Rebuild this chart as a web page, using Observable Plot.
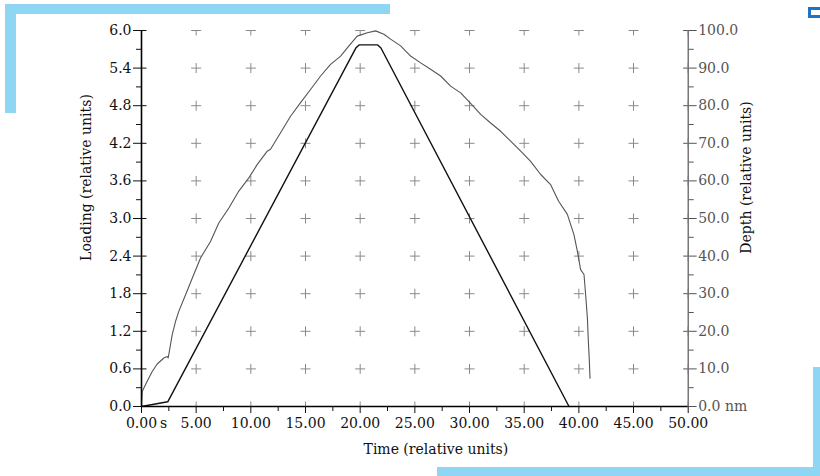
<!DOCTYPE html>
<html>
<head>
<meta charset="utf-8">
<script src="https://cdn.jsdelivr.net/npm/d3@7"></script>
<script src="https://cdn.jsdelivr.net/npm/@observablehq/plot@0.6"></script>
<style>
  html, body { margin: 0; padding: 0; background: #fff; }
  #wrap { position: relative; width: 820px; height: 476px; overflow: hidden; }
  #chart svg { display: block; }
  .deco { position: absolute; background: #8fd6f5; }
  .sq { position: absolute; left: 808px; top: 7px; width: 10px; height: 5px; border: 3.3px solid #1f73c4; }
</style>
</head>
<body>
<div id="wrap">
  <div id="chart"></div>
  <div class="deco" style="left:5px;top:4px;width:385px;height:9.5px"></div>
  <div class="deco" style="left:5px;top:4px;width:11px;height:109px"></div>
  <div class="deco" style="left:813px;top:367px;width:7px;height:109px"></div>
  <div class="deco" style="left:437px;top:466.5px;width:383px;height:9.5px"></div>
  <div class="sq"></div>
</div>
<script>
// Loading curve (left axis, relative units)
const loadTime  = [0, 2.4, 19.6, 19.9, 21.6, 21.9, 39.1];
const loadValue = [0, 0.075, 5.72, 5.77, 5.77, 5.72, 0];

// Depth curve (right axis, nm)
const depthTime = [0, 0.06, 0.52, 0.98, 1.44, 2.04, 2.35, 2.44, 2.81, 3.11, 3.41, 4.03, 4.78, 5.40, 6.31, 7.07, 7.99, 8.90, 9.82, 10.59, 11.50, 11.80, 12.72, 13.63, 14.55, 15.46, 16.38, 17.29, 18.21, 18.97, 19.73, 20.65, 21.41, 22.17, 22.78, 23.70, 24.61, 25.53, 26.44, 27.36, 28.27, 29.19, 30.10, 31.02, 31.93, 32.85, 33.76, 34.68, 35.59, 36.51, 37.42, 38.15, 38.95, 39.55, 39.86, 40.16, 40.47, 40.62, 40.78, 40.87, 40.96, 41.02];
const depthValue = [0, 4.0, 6.7, 9.3, 11.3, 12.9, 13.3, 12.9, 19.1, 22.6, 25.3, 29.7, 35.1, 39.5, 43.9, 48.8, 52.8, 57.3, 60.8, 64.4, 67.9, 68.4, 72.8, 77.2, 80.8, 84.3, 87.9, 91.0, 93.2, 95.9, 98.5, 99.4, 99.9, 99.0, 97.7, 95.9, 93.2, 91.4, 89.7, 87.9, 85.2, 83.4, 80.6, 77.7, 75.4, 73.2, 70.6, 67.9, 65.2, 61.7, 59.0, 54.6, 51.1, 45.7, 41.3, 36.4, 35.1, 29.7, 23.5, 17.3, 12.0, 7.5];

// Axis ticks and labels
const xMajor = [0, 5, 10, 15, 20, 25, 30, 35, 40, 45, 50];
const xMinor = [2.5, 7.5, 12.5, 17.5, 22.5, 27.5, 32.5, 37.5, 42.5, 47.5];
const xLabels = ["0.00", "5.00", "10.00", "15.00", "20.00", "25.00", "30.00", "35.00", "40.00", "45.00", "50.00"];
const yMajor = [0, 0.6, 1.2, 1.8, 2.4, 3.0, 3.6, 4.2, 4.8, 5.4, 6.0];
const yMinor = [0.3, 0.9, 1.5, 2.1, 2.7, 3.3, 3.9, 4.5, 5.1, 5.7];
const yLabels = ["0.0", "0.6", "1.2", "1.8", "2.4", "3.0", "3.6", "4.2", "4.8", "5.4", "6.0"];
const depthMajor = [0, 10, 20, 30, 40, 50, 60, 70, 80, 90, 100];
const depthMinor = [5, 15, 25, 35, 45, 55, 65, 75, 85, 95];
const depthLabels = ["0.0 nm", "10.0", "20.0", "30.0", "40.0", "50.0", "60.0", "70.0", "80.0", "90.0", "100.0"];
const depthMax = 100, loadMax = 6;

const scaleDepth = d => d * loadMax / depthMax;

const loadData = loadTime.map((t, i) => ({t, v: loadValue[i]}));
const depthData = depthTime.map((t, i) => ({t, v: scaleDepth(depthValue[i])}));

const gridInner = [], gridLeft = [], gridRight = [];
for (const x of xMajor) for (const y of yMajor) {
  if (x === 0) gridLeft.push({x, y});
  else if (x === 50) gridRight.push({x, y});
  else gridInner.push({x, y});
}
const plus = {draw(ctx) { ctx.moveTo(-5, 0); ctx.lineTo(5, 0); ctx.moveTo(0, -5); ctx.lineTo(0, 5); }};

const chart = Plot.plot({
  width: 820, height: 476,
  marginLeft: 141, marginRight: 132.3, marginTop: 30, marginBottom: 70,
  style: {fontFamily: "'DejaVu Serif', serif", fontSize: "14px", background: "white", overflow: "visible"},
  x: {domain: [0, 50]},
  y: {domain: [0, 6]},
  marks: [
    Plot.dot(gridInner, {x: "x", y: "y", symbol: plus, r: 5, fill: "none", stroke: "#8a8a8a", strokeWidth: 1, clip: true}),
    Plot.dot(gridLeft, {x: "x", y: "y", symbol: plus, r: 5, fill: "none", stroke: "#111", strokeWidth: 1, clip: true}),
    Plot.dot(gridRight, {x: "x", y: "y", symbol: plus, r: 5, fill: "none", stroke: "#555", strokeWidth: 1, clip: true}),
    Plot.line(depthData, {x: "t", y: "v", stroke: "#555", strokeWidth: 1.1}),
    Plot.line(loadData, {x: "t", y: "v", stroke: "#111", strokeWidth: 1.4}),
    Plot.ruleX([50], {stroke: "#555", strokeWidth: 1.2}),
    Plot.ruleX([0], {stroke: "#000", strokeWidth: 1.6}),
    Plot.ruleY([0], {stroke: "#000", strokeWidth: 1.6}),
    Plot.axisY({ticks: yMajor, tickSize: 8, tickPadding: 2, tickFormat: d => yLabels[yMajor.indexOf(d)], label: null, color: "#111"}),
    Plot.axisY({ticks: yMinor, tickSize: 5, tickFormat: () => "", label: null, color: "#111"}),
    Plot.axisX({ticks: xMajor, tickSize: 7, tickPadding: 5, tickFormat: d => xLabels[xMajor.indexOf(d)], label: null, color: "#111"}),
    Plot.axisX({ticks: xMinor, tickSize: 5, tickFormat: () => "", label: null, color: "#111"}),
    Plot.axisY({anchor: "right", ticks: depthMajor.map(scaleDepth), tickSize: 8, tickPadding: 2, tickFormat: (d) => depthLabels[Math.round(d * depthMax / loadMax / 10)], label: null, color: "#555"}),
    Plot.axisY({anchor: "right", ticks: depthMinor.map(scaleDepth), tickSize: 5, tickFormat: () => "", label: null, color: "#555"}),
    Plot.text(["s"], {x: 0, y: 0, text: d => d, textAnchor: "start", lineAnchor: "top", dx: 18.5, dy: 12, fill: "#111"}),
    Plot.text(["Time (relative units)"], {frameAnchor: "bottom", text: d => d, textAnchor: "middle", dx: 21, dy: 47, fill: "#111"}),
    Plot.text(["Loading (relative units)"], {frameAnchor: "left", text: d => d, textAnchor: "middle", rotate: -90, dx: -54.5, dy: -41, fill: "#111"}),
    Plot.text(["Depth (relative units)"], {frameAnchor: "right", text: d => d, textAnchor: "middle", rotate: -90, dx: 58.8, dy: -41, fill: "#111"})
  ]
});
document.getElementById("chart").appendChild(chart);
</script>
</body>
</html>
